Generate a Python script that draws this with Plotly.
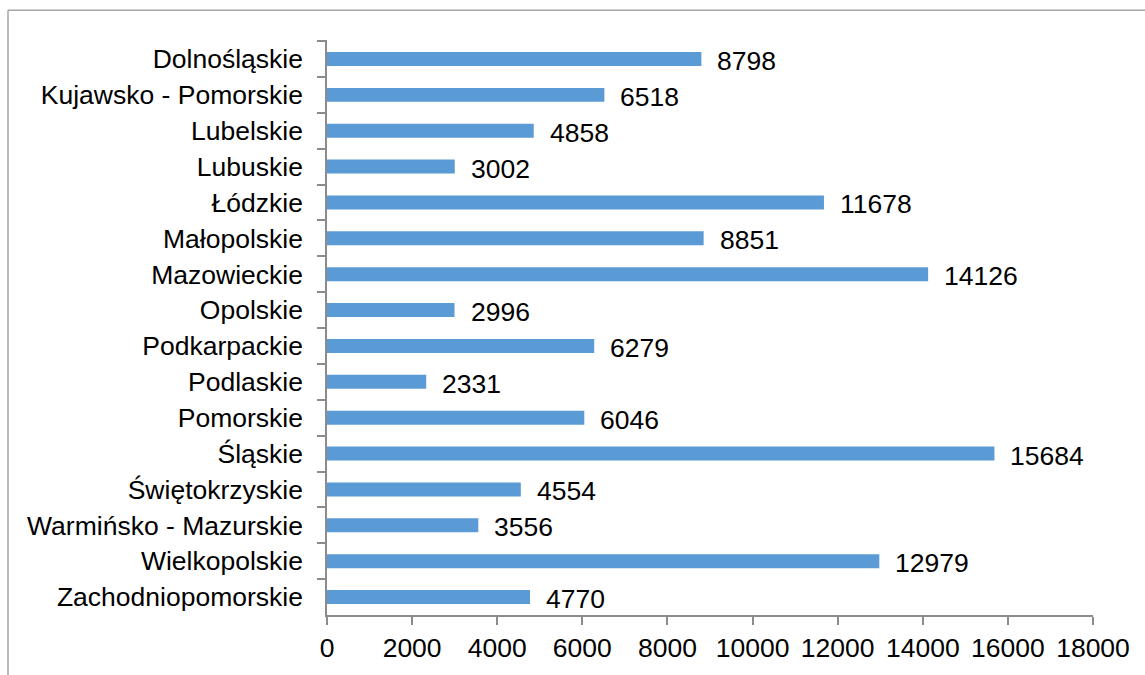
import plotly.graph_objects as go

regions = [
    "Dolnośląskie", "Kujawsko - Pomorskie", "Lubelskie", "Lubuskie", "Łódzkie",
    "Małopolskie", "Mazowieckie", "Opolskie", "Podkarpackie", "Podlaskie",
    "Pomorskie", "Śląskie", "Świętokrzyskie", "Warmińsko - Mazurskie",
    "Wielkopolskie", "Zachodniopomorskie",
]
counts = [8798, 6518, 4858, 3002, 11678, 8851, 14126, 2996, 6279, 2331,
          6046, 15684, 4554, 3556, 12979, 4770]
x_ticks = [0, 2000, 4000, 6000, 8000, 10000, 12000, 14000, 16000, 18000]

FONT = "Liberation Sans, Arial, sans-serif"
FS = 26.5
AXIS_GREY = "#8c8c8c"

fig = go.Figure(go.Bar(
    x=counts,
    y=regions,
    orientation="h",
    marker=dict(color="#5b9bd5", line=dict(width=0)),
    width=0.39,
    hoverinfo="skip",
))

# value labels just past the end of each bar
for r, v in zip(regions, counts):
    fig.add_annotation(x=v, y=r, text=str(v), showarrow=False,
                       xanchor="left", xshift=14, yshift=-2,
                       font=dict(family=FONT, size=FS, color="#000000"))

W, H = 1145, 675
ml, mr, mt, mb = 327, 52, 40, 56
pw, ph = W - ml - mr, H - mt - mb

# outer frame: left and top edges
def px_x(px):
    return (px - ml) / pw

def px_y(py):
    return (H - mb - py) / ph

fig.add_shape(type="line", xref="paper", yref="paper",
              x0=px_x(8), x1=px_x(W + 5), y0=px_y(10), y1=px_y(10),
              line=dict(color="#a6a6a6", width=1.5))
fig.add_shape(type="line", xref="paper", yref="paper",
              x0=px_x(8), x1=px_x(8), y0=px_y(10), y1=px_y(H + 5),
              line=dict(color="#a6a6a6", width=1.5))

fig.update_layout(
    width=W, height=H,
    margin=dict(l=ml, r=mr, t=mt, b=mb),
    paper_bgcolor="white", plot_bgcolor="white",
    showlegend=False,
    font=dict(family=FONT, size=FS, color="#000000"),
    xaxis=dict(
        range=[0, 18000], tickvals=x_ticks, ticktext=[str(t) for t in x_ticks],
        showgrid=False, zeroline=False,
        showline=True, linecolor=AXIS_GREY, linewidth=1.5,
        ticks="outside", ticklen=8, tickcolor=AXIS_GREY, tickwidth=1.5,
        tickfont=dict(family=FONT, size=FS, color="#000000"),
    ),
    yaxis=dict(
        categoryorder="array", categoryarray=regions, autorange="reversed",
        showgrid=False, zeroline=False,
        showline=True, linecolor=AXIS_GREY, linewidth=1.5,
        ticks="outside", ticklen=8, tickcolor=AXIS_GREY, tickwidth=1.5,
        tickson="boundaries",
        tickfont=dict(family=FONT, size=FS, color="#000000"),
        ticklabelstandoff=17,
    ),
)

fig.write_html("out.html")
